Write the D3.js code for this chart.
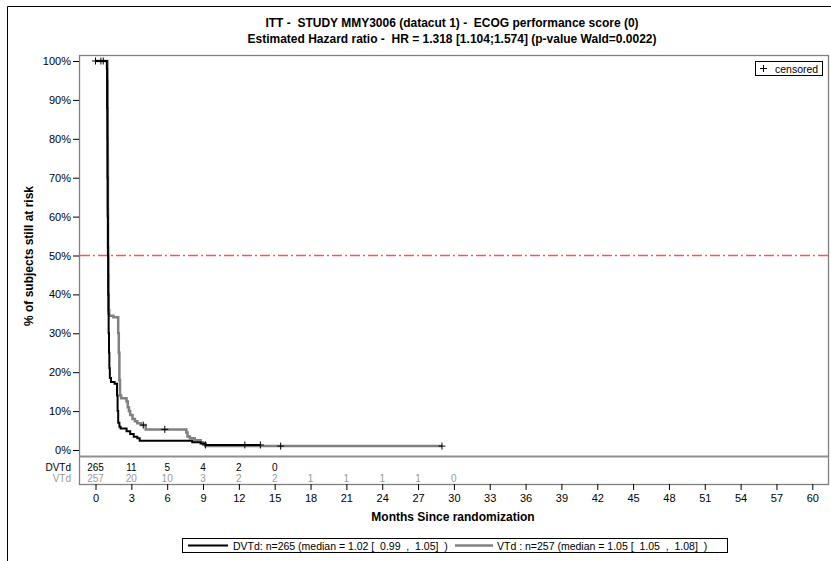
<!DOCTYPE html>
<html>
<head>
<meta charset="utf-8">
<title>KM curve</title>
<script src="https://d3js.org/d3.v7.min.js"></script>
<style>
body { margin: 0; background: #fff; }
svg text { font-family: "Liberation Sans", Arial, sans-serif; white-space: pre; }
</style>
</head>
<body>
<svg id="chart" width="831" height="561"></svg>
<script>
// series data: [months, % still at risk] steps
const dvtdSteps = [
  [0, 100], [0.95, 98], [0.97, 88], [0.99, 80], [1.0, 70], [1.02, 60], [1.04, 50],
  [1.06, 40], [1.08, 35], [1.1, 30], [1.13, 25], [1.16, 21], [1.2, 18.5], [1.3, 17.5],
  [1.6, 17.0], [1.8, 14], [1.85, 10], [1.9, 7], [2.0, 6], [2.1, 5.5], [2.6, 4.8],
  [2.9, 4.1], [3.2, 3.4], [3.5, 3.0], [3.7, 2.4], [8.1, 2.0], [8.8, 1.7], [9.2, 1.3], [13.8, 1.3]
];
const vtdSteps = [
  [0, 100], [1.0, 95], [1.02, 85], [1.03, 75], [1.04, 62], [1.05, 52], [1.07, 45],
  [1.09, 40], [1.11, 36], [1.15, 34.5], [1.5, 34.1], [1.9, 30], [1.95, 25], [2.0, 18],
  [2.05, 14], [2.15, 13.3], [2.6, 12.5], [2.7, 11], [2.8, 10], [2.9, 9], [3.1, 8],
  [3.3, 7.4], [3.5, 6.9], [3.8, 6.4], [4.2, 5.3], [7.6, 4.5], [7.7, 3.5], [7.9, 3.0],
  [8.3, 2.5], [8.8, 2.0], [9.0, 1.6], [9.2, 1.0], [29.0, 1.0]
];
const dvtdCensored = [0.0, 0.45, 9.2, 12.5, 13.8];
const vtdCensored = [0.65, 4.0, 5.8, 15.5, 29.0];

const riskTimesDvtd = [0, 3, 6, 9, 12, 15];
const riskDvtd = [265, 11, 5, 4, 2, 0];
const riskTimesVtd = [0, 3, 6, 9, 12, 15, 18, 21, 24, 27, 30];
const riskVtd = [257, 20, 10, 3, 2, 2, 1, 1, 1, 1, 0];

const xTicks = d3.range(0, 61, 3);
const yTicks = d3.range(0, 101, 10);
const medianLine = 50;

const titleLines = [
  "ITT -  STUDY MMY3006 (datacut 1) -  ECOG performance score (0)",
  "Estimated Hazard ratio -  HR = 1.318 [1.104;1.574] (p-value Wald=0.0022)"
];
const legendDvtd = "DVTd: n=265 (median = 1.02 [  0.99  ,  1.05]  )";
const legendVtd = "VTd : n=257 (median = 1.05 [  1.05  ,  1.08]  )";

const svg = d3.select("#chart");
const box = { left: 79, top: 55, right: 828, bottom: 484, sep: 456.5 };

const x = d3.scaleLinear().domain([0, 60]).range([95.5, 812.3]);
const y = d3.scaleLinear().domain([0, 100]).range([450, 61]);

// outer frame
svg.append("path").attr("d", "M7.5,561 V6.5 H831")
  .attr("fill", "none").attr("stroke", "#000").attr("stroke-width", 1);

// titles
svg.selectAll(".title").data(titleLines).enter().append("text")
  .attr("x", 452).attr("y", (d, i) => 27 + i * 16)
  .attr("text-anchor", "middle").attr("font-size", 12).attr("font-weight", "bold")
  .text(d => d);

// plot box
svg.append("rect").attr("x", box.left + 0.5).attr("y", box.top + 0.5)
  .attr("width", box.right - box.left).attr("height", box.bottom - box.top)
  .attr("fill", "none").attr("stroke", "#808080").attr("stroke-width", 1.3);
svg.append("line").attr("x1", box.left).attr("x2", box.right + 0.5)
  .attr("y1", box.sep).attr("y2", box.sep)
  .attr("stroke", "#909090").attr("stroke-width", 2);

// y axis
const yAxis = svg.append("g").attr("transform", `translate(${box.left},0)`)
  .call(d3.axisLeft(y).tickValues(yTicks).tickFormat(d => d + "%").tickSize(6).tickPadding(2));
yAxis.select(".domain").remove();
yAxis.selectAll("line").attr("stroke", "#000");
yAxis.selectAll("text").attr("font-size", 11).attr("fill", "#000")
  .attr("font-family", "Liberation Sans, Arial, sans-serif");

// x axis
const xAxis = svg.append("g").attr("transform", `translate(0,${box.bottom})`)
  .call(d3.axisBottom(x).tickValues(xTicks).tickSize(6).tickPadding(4));
xAxis.select(".domain").remove();
xAxis.selectAll("line").attr("stroke", "#000");
xAxis.selectAll("text").attr("font-size", 11).attr("fill", "#000")
  .attr("font-family", "Liberation Sans, Arial, sans-serif");

// axis labels
svg.append("text").attr("x", 453).attr("y", 521).attr("text-anchor", "middle")
  .attr("font-size", 12).attr("font-weight", "bold").text("Months Since randomization");
svg.append("text").attr("transform", "translate(33,256) rotate(-90)")
  .attr("text-anchor", "middle").attr("font-size", 12).attr("font-weight", "bold")
  .text("% of subjects still at risk");

// 50% reference line
svg.append("line").attr("x1", box.left + 1).attr("x2", box.right)
  .attr("y1", y(medianLine)).attr("y2", y(medianLine))
  .style("stroke", "#ff5454").style("stroke-width", 1.4)
  .style("stroke-dasharray", "10,3,2,3");

// curves
const line = d3.line().x(d => x(d[0])).y(d => y(d[1])).curve(d3.curveStepAfter);
svg.append("path").datum(vtdSteps).attr("d", line)
  .attr("fill", "none").attr("stroke", "#808080").attr("stroke-width", 2.5);
svg.append("path").datum(dvtdSteps).attr("d", line)
  .attr("fill", "none").attr("stroke", "#000").attr("stroke-width", 2);

// censor marks
function survAt(steps, t) {
  let v = steps[0][1];
  for (const s of steps) { if (s[0] <= t) v = s[1]; }
  return v;
}
function drawCensor(times, steps) {
  svg.append("g").selectAll("path").data(times).enter().append("path")
    .attr("d", t => {
      const cx = x(t), cy = y(survAt(steps, t));
      return `M${cx - 3.5},${cy}H${cx + 3.5}M${cx},${cy - 3.5}V${cy + 3.5}`;
    })
    .attr("stroke", "#000").attr("stroke-width", 1);
}
drawCensor(dvtdCensored, dvtdSteps);
drawCensor(vtdCensored, vtdSteps);

// censored legend
svg.append("rect").attr("x", 755.5).attr("y", 61.5).attr("width", 67).attr("height", 14)
  .attr("fill", "#fff").attr("stroke", "#000").attr("stroke-width", 1);
svg.append("path").attr("d", "M760,68.5H767M763.5,65V72").attr("stroke", "#000");
svg.append("text").attr("x", 775).attr("y", 72.5).attr("font-size", 10.5).text("censored");

// risk table
svg.append("text").attr("x", 71).attr("y", 471).attr("text-anchor", "end")
  .attr("font-size", 10).attr("fill", "#000").text("DVTd");
svg.append("text").attr("x", 71).attr("y", 482).attr("text-anchor", "end")
  .attr("font-size", 10).attr("fill", "#999").text("VTd");
svg.append("g").selectAll("text").data(riskDvtd).enter().append("text")
  .attr("x", (d, i) => x(riskTimesDvtd[i])).attr("y", 471).attr("text-anchor", "middle")
  .attr("font-size", 10).attr("fill", "#000").text(d => d);
svg.append("g").selectAll("text").data(riskVtd).enter().append("text")
  .attr("x", (d, i) => x(riskTimesVtd[i])).attr("y", 482).attr("text-anchor", "middle")
  .attr("font-size", 10).attr("fill", "#999").text(d => d);

// bottom legend
svg.append("rect").attr("x", 182.5).attr("y", 538.5).attr("width", 545).attr("height", 14)
  .attr("fill", "#fff").attr("stroke", "#000").attr("stroke-width", 1);
svg.append("line").attr("x1", 188).attr("x2", 228).attr("y1", 545.5).attr("y2", 545.5)
  .attr("stroke", "#000").attr("stroke-width", 2);
svg.append("text").attr("x", 233).attr("y", 549.5).attr("font-size", 10.5).text(legendDvtd);
svg.append("line").attr("x1", 455).attr("x2", 493).attr("y1", 545.5).attr("y2", 545.5)
  .attr("stroke", "#808080").attr("stroke-width", 2.5);
svg.append("text").attr("x", 497).attr("y", 549.5).attr("font-size", 10.5).text(legendVtd);
</script>
</body>
</html>
